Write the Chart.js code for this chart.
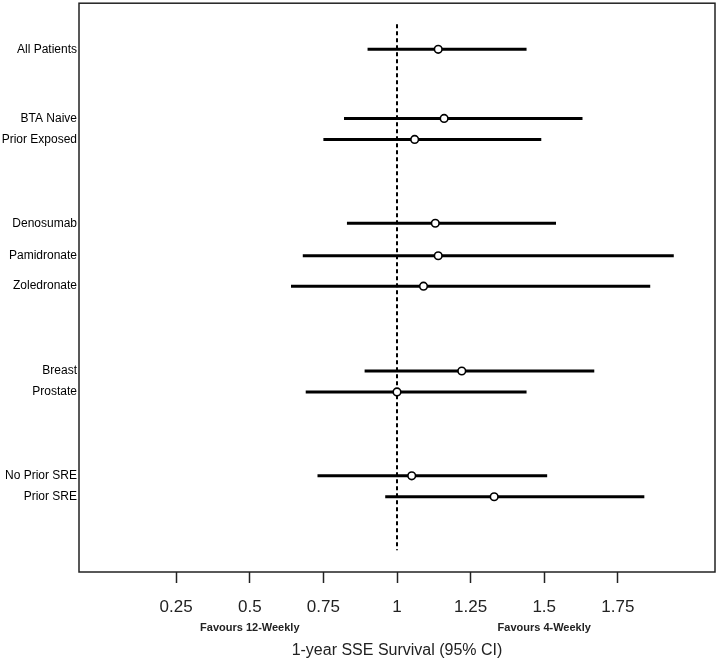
<!DOCTYPE html>
<html>
<head>
<meta charset="utf-8">
<script src="https://cdn.jsdelivr.net/npm/chart.js@4"></script>
<style>
  html, body { margin: 0; padding: 0; background: #fff; }
  #forest { display: block; }
</style>
</head>
<body>
<canvas id="forest" width="718" height="661"></canvas>
<script>
// ============================================
//  DATA
// ============================================
const groups = ['All Patients', 'BTA Naive', 'Prior Exposed', 'Denosumab', 'Pamidronate',
                'Zoledronate', 'Breast', 'Prostate', 'No Prior SRE', 'Prior SRE'];
// vertical row positions (rows are grouped, so spacing is uneven)
const rowPos = [1, 4.3, 5.3, 9.3, 10.85, 12.3, 16.35, 17.35, 21.35, 22.35];
const estimate = [1.14, 1.16, 1.06, 1.13, 1.14, 1.09, 1.22, 1.00, 1.05, 1.33];
const lower    = [0.90, 0.82, 0.75, 0.83, 0.68, 0.64, 0.89, 0.69, 0.73, 0.96];
const upper    = [1.44, 1.63, 1.49, 1.54, 1.94, 1.86, 1.67, 1.44, 1.51, 1.84];
const xTicks = [0.25, 0.5, 0.75, 1, 1.25, 1.5, 1.75];
const refLine = { x: 1, from: -0.2, to: 24.9 };
const favours = [
  { text: 'Favours 12-Weekly', at: 0.5 },
  { text: 'Favours 4-Weekly', at: 1.5 }
];
const xTitle = '1-year SSE Survival (95% CI)';

// ============================================
//  DATASETS
// ============================================
const ciSets = groups.map((g, i) => ({
  label: g,
  data: [{ x: lower[i], y: rowPos[i] }, { x: upper[i], y: rowPos[i] }],
  showLine: true,
  borderColor: '#000',
  borderWidth: 3,
  pointRadius: 0,
  order: 2
}));

const refSet = {
  label: 'ref',
  data: [{ x: refLine.x, y: refLine.from }, { x: refLine.x, y: refLine.to }],
  showLine: true,
  borderColor: '#000',
  borderWidth: 2,
  borderDash: [4, 3],
  pointRadius: 0,
  order: 3
};

const pointSet = {
  label: 'estimate',
  data: groups.map((g, i) => ({ x: estimate[i], y: rowPos[i] })),
  pointStyle: 'circle',
  pointRadius: 3.8,
  pointBorderWidth: 1.6,
  pointBorderColor: '#000',
  pointBackgroundColor: '#fff',
  order: 1
};

// box around plot area + favours captions
const framePlugin = {
  id: 'frame',
  afterDraw(chart) {
    const { ctx, chartArea: a, scales } = chart;
    ctx.save();
    ctx.strokeStyle = '#222';
    ctx.lineWidth = 1.5;
    ctx.strokeRect(a.left, a.top, a.right - a.left, a.bottom - a.top);

    ctx.fillStyle = '#222';
    ctx.font = 'bold 11px "Liberation Sans", Arial, sans-serif';
    ctx.textAlign = 'center';
    ctx.textBaseline = 'middle';
    favours.forEach(f => {
      ctx.fillText(f.text, scales.x.getPixelForValue(f.at), 628);
    });
    ctx.restore();
  }
};

new Chart(document.getElementById('forest'), {
  type: 'scatter',
  data: { datasets: [refSet, ...ciSets, pointSet] },
  options: {
    responsive: false,
    animation: false,
    devicePixelRatio: 1,
    layout: { autoPadding: false, padding: { top: 2, right: 3, left: 0, bottom: 0 } },
    plugins: {
      legend: { display: false },
      tooltip: { enabled: false }
    },
    scales: {
      x: {
        type: 'linear',
        min: -0.08,
        max: 2.08,
        afterBuildTicks: (scale) => { scale.ticks = xTicks.map(v => ({ value: v })); },
        afterFit: (scale) => { scale.height = 89; },
        grid: {
          drawOnChartArea: false,
          drawTicks: true,
          tickLength: 11,
          tickWidth: 1.5,
          tickColor: '#222'
        },
        border: { display: false },
        ticks: {
          color: '#222',
          padding: 14,
          maxRotation: 0,
          font: { family: '"Liberation Sans", Arial, sans-serif', size: 17 },
          callback: (v) => String(v)
        },
        title: {
          display: true,
          text: xTitle,
          color: '#222',
          padding: { top: 0, bottom: 1 },
          font: { family: '"Liberation Sans", Arial, sans-serif', size: 16 }
        }
      },
      y: {
        type: 'linear',
        reverse: true,
        min: -1.2,
        max: 25.94,
        afterBuildTicks: (scale) => { scale.ticks = rowPos.map(v => ({ value: v })); },
        afterFit: (scale) => { scale.width = 79; },
        grid: { display: false, drawTicks: false },
        border: { display: false },
        ticks: {
          color: '#000',
          padding: 2,
          font: { family: '"Liberation Sans", Arial, sans-serif', size: 12, lineHeight: 0.2 },
          callback: (v, i) => groups[i]
        }
      }
    }
  },
  plugins: [framePlugin]
});
</script>
</body>
</html>
